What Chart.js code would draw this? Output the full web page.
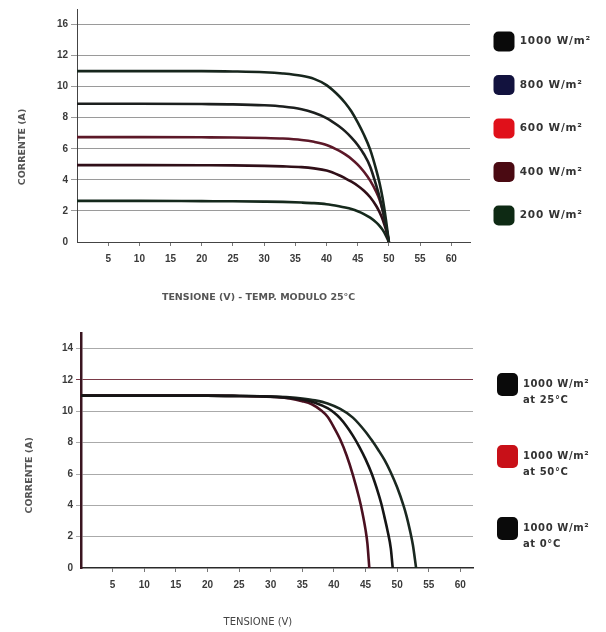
<!DOCTYPE html>
<html>
<head>
<meta charset="utf-8">
<script src="https://cdn.jsdelivr.net/npm/chart.js@4.4.1/dist/chart.umd.min.js"></script>
<style>
  body { margin: 0; background: #fff; }
  .box { width: 606px; height: 316px; }
</style>
</head>
<body>
<div class="box"><canvas id="irradiance" width="606" height="316"></canvas></div>
<div class="box"><canvas id="temperature" width="606" height="316"></canvas></div>
<script>
// --- top chart: current vs voltage at several irradiances (module at 25°C)
const voltsTop = [0, 10, 20, 25, 30, 33, 36, 38, 40, 42, 43, 44, 45, 46, 47, 48, 48.5, 49, 49.5, 50];
const current1000 = [11.0, 11.0, 11.0, 10.98, 10.93, 10.85, 10.7, 10.5, 10.1, 9.4, 8.95, 8.4, 7.7, 6.9, 5.95, 4.6, 3.8, 2.8, 1.5, 0];
const current800 = [8.9, 8.9, 8.88, 8.86, 8.8, 8.72, 8.55, 8.32, 7.98, 7.45, 7.12, 6.72, 6.25, 5.65, 4.85, 3.6, 2.9, 2.05, 1.08, 0];
const current600 = [6.75, 6.75, 6.74, 6.73, 6.7, 6.66, 6.57, 6.45, 6.25, 5.88, 5.64, 5.35, 4.98, 4.52, 3.95, 3.2, 2.72, 2.05, 1.12, 0];
const current400 = [4.95, 4.95, 4.94, 4.93, 4.9, 4.87, 4.82, 4.74, 4.6, 4.3, 4.1, 3.88, 3.62, 3.3, 2.88, 2.3, 1.92, 1.45, 0.82, 0];
const current200 = [2.65, 2.65, 2.63, 2.62, 2.6, 2.58, 2.54, 2.5, 2.43, 2.3, 2.22, 2.12, 1.98, 1.8, 1.57, 1.25, 1.04, 0.78, 0.43, 0];
const labelsTop = ['1000 W/m²', '800 W/m²', '600 W/m²', '400 W/m²', '200 W/m²'];
const lineColorsTop = ['#17261d', '#1c1f1e', '#5c1828', '#300f18', '#15291c'];
const boxColorsTop = ['#0a0a0a', '#12123e', '#e0101a', '#4a0a12', '#0e2a14'];
const yTicksTop = [0, 2, 4, 6, 8, 10, 12, 14];
const yTickLabelsTop = ['0', '2', '4', '6', '8', '10', '12', '16'];

// --- bottom chart: current vs voltage at 1000 W/m² and three temperatures
const volts25 = [0, 10, 20, 25, 28, 31, 33, 35, 37, 39, 40, 41, 42, 43, 44, 45, 46, 47, 47.5, 48, 48.5, 49, 49.3];
const current25 = [11.0, 11.0, 11.0, 10.98, 10.96, 10.92, 10.85, 10.75, 10.55, 10.2, 9.92, 9.55, 9.05, 8.45, 7.75, 6.95, 6.0, 4.8, 4.1, 3.25, 2.35, 1.25, 0];
const volts50 = [0, 10, 20, 25, 28, 31, 33, 35, 36.5, 38, 39, 40, 41, 42, 43, 44, 44.5, 45, 45.3, 45.6];
const current50 = [11.0, 11.0, 11.0, 10.98, 10.95, 10.9, 10.82, 10.65, 10.45, 10.05, 9.65, 8.98, 8.2, 7.2, 5.95, 4.45, 3.55, 2.45, 1.55, 0];
const volts0 = [0, 10, 20, 25, 30, 33, 35, 37, 39, 41, 43, 45, 46, 47, 48, 49, 50, 51, 51.5, 52, 52.5, 53];
const current0 = [11.0, 11.0, 11.0, 10.98, 10.95, 10.9, 10.82, 10.7, 10.5, 10.15, 9.6, 8.7, 8.15, 7.55, 6.9, 6.1, 5.15, 4.0, 3.3, 2.45, 1.45, 0];
const labelsBottom = [['1000 W/m²', 'at 25°C', ''], ['1000 W/m²', 'at 50°C', ''], ['1000 W/m²', 'at 0°C', '']];
const lineColorsBottom = ['#151515', '#4a1020', '#1a2820'];
const boxColorsBottom = ['#0a0a0a', '#c81018', '#0a0a0a'];
const yTicksBottom = [0, 2, 4, 6, 8, 10, 12, 14];

const xTicks = [5, 10, 15, 20, 25, 30, 35, 40, 45, 50, 55, 60];

Chart.defaults.color = '#333';
Chart.defaults.font.family = 'Liberation Sans';

function points(xs, ys) {
  return xs.map((x, i) => ({x, y: ys[i]}));
}

// fixed legend width so the plot ends where the original one does,
// and a little letter spacing on the legend text
const legendTweaks = {
  id: 'legendTweaks',
  beforeLayout(chart, args, opts) {
    const legend = chart.legend;
    if (!legend || legend.tweaked) return;
    const fit = legend.fit;
    legend.fit = function () {
      fit.call(this);
      this.width = opts.width;
    };
    const draw = legend.draw;
    legend.draw = function () {
      const prev = this.ctx.letterSpacing;
      this.ctx.letterSpacing = opts.letterSpacing;
      draw.call(this);
      this.ctx.letterSpacing = prev;
    };
    legend.tweaked = true;
  }
};

function legendLabels(chart) {
  const items = Chart.defaults.plugins.legend.labels.generateLabels(chart);
  items.forEach(item => {
    item.strokeStyle = item.fillStyle;
    item.lineWidth = 0;
  });
  return items;
}

const tickFont = {family: 'Liberation Sans', size: 10, weight: 'bold'};
const titleFont = {family: 'DejaVu Sans', size: 9.5, weight: 'bold'};

new Chart(document.getElementById('irradiance'), {
  type: 'line',
  data: {
    datasets: labelsTop.map((label, i) => ({
      label,
      data: points(voltsTop, [current1000, current800, current600, current400, current200][i]),
      borderColor: lineColorsTop[i],
      backgroundColor: boxColorsTop[i],
      borderWidth: 2.6,
      pointRadius: 0,
      fill: false,
      cubicInterpolationMode: 'monotone',
    })),
  },
  plugins: [legendTweaks],
  options: {
    responsive: false,
    animation: false,
    layout: {padding: {top: 8, left: 0, right: 0, bottom: 0}},
    scales: {
      x: {
        type: 'linear',
        min: 0,
        max: 63,
        afterFit: scale => { scale.height = 74; },
        afterBuildTicks: scale => { scale.ticks = xTicks.map(v => ({value: v})); },
        ticks: {font: tickFont, color: '#3a3a3a', padding: 7, maxRotation: 0},
        grid: {drawOnChartArea: false, tickLength: 4, color: '#777'},
        border: {color: '#444', width: 1},
        title: {
          display: true,
          text: 'TENSIONE (V) - TEMP. MODULO 25°C' + ' '.repeat(9),
          font: titleFont,
          color: '#555',
          padding: {top: 0, bottom: 13},
        },
      },
      y: {
        min: 0,
        max: 15,
        afterFit: scale => { scale.width = 77; },
        afterBuildTicks: scale => { scale.ticks = yTicksTop.map(v => ({value: v})); },
        ticks: {
          font: tickFont,
          color: '#3a3a3a',
          padding: 3,
          callback: value => yTickLabelsTop[yTicksTop.indexOf(value)],
        },
        grid: {
          tickLength: 6,
          color: c => (c.tick && c.tick.value === 0 ? 'rgba(0,0,0,0)' : '#9a9a9a'),
        },
        border: {color: '#444', width: 1},
        title: {
          display: true,
          text: 'CORRENTE (A)' + ' '.repeat(13),
          font: titleFont,
          color: '#555',
          padding: {top: 17, bottom: 0},
        },
      },
    },
    plugins: {
      legendTweaks: {width: 136, letterSpacing: '0.8px'},
      tooltip: {enabled: false},
      legend: {
        position: 'right',
        align: 'start',
        labels: {
          boxWidth: 21,
          boxHeight: 20,
          padding: 23.5,
          useBorderRadius: true,
          borderRadius: 5,
          color: '#333',
          font: {family: 'DejaVu Sans', size: 10.5, weight: 'bold'},
          generateLabels: legendLabels,
        },
      },
    },
  },
});

new Chart(document.getElementById('temperature'), {
  type: 'line',
  data: {
    datasets: labelsBottom.map((label, i) => ({
      label,
      data: [points(volts25, current25), points(volts50, current50), points(volts0, current0)][i],
      borderColor: lineColorsBottom[i],
      backgroundColor: boxColorsBottom[i],
      borderWidth: 2.6,
      pointRadius: 0,
      fill: false,
      cubicInterpolationMode: 'monotone',
    })),
  },
  plugins: [legendTweaks],
  options: {
    responsive: false,
    animation: false,
    layout: {padding: {top: 17, left: 0, right: 0, bottom: 0}},
    scales: {
      x: {
        type: 'linear',
        min: 0,
        max: 62,
        afterFit: scale => { scale.height = 64; },
        afterBuildTicks: scale => { scale.ticks = xTicks.map(v => ({value: v})); },
        ticks: {font: tickFont, color: '#3a3a3a', padding: 7, maxRotation: 0},
        grid: {drawOnChartArea: false, tickLength: 4, color: '#777'},
        border: {color: '#2a2a2a', width: 1.5},
        title: {
          display: true,
          text: 'TENSIONE (V)' + ' '.repeat(12),
          font: {family: 'DejaVu Sans', size: 10},
          color: '#444',
          padding: {top: 0, bottom: 4},
        },
      },
      y: {
        min: 0,
        max: 15,
        afterFit: scale => { scale.width = 81; },
        afterBuildTicks: scale => { scale.ticks = yTicksBottom.map(v => ({value: v})); },
        ticks: {font: tickFont, color: '#3a3a3a', padding: 3},
        grid: {
          tickLength: 5,
          color: c => {
            if (!c.tick || c.tick.value === 0) return 'rgba(0,0,0,0)';
            return c.tick.value === 12 ? '#7a3a48' : '#aaaaaa';
          },
        },
        border: {color: '#3a1520', width: 2.5},
        title: {
          display: true,
          text: 'CORRENTE (A)' + ' '.repeat(15),
          font: titleFont,
          color: '#555',
          padding: {top: 24, bottom: 0},
        },
      },
    },
    plugins: {
      legendTweaks: {width: 133, letterSpacing: '0.6px'},
      tooltip: {enabled: false},
      legend: {
        position: 'right',
        align: 'start',
        title: {display: true, text: '', font: {size: 1, lineHeight: 1}, padding: {top: 15, bottom: 0}},
        labels: {
          boxWidth: 21,
          boxHeight: 23,
          padding: 24,
          useBorderRadius: true,
          borderRadius: 5,
          color: '#333',
          font: {family: 'DejaVu Sans', size: 10, weight: 'bold', lineHeight: 1.6},
          generateLabels: legendLabels,
        },
      },
    },
  },
});
</script>
</body>
</html>
